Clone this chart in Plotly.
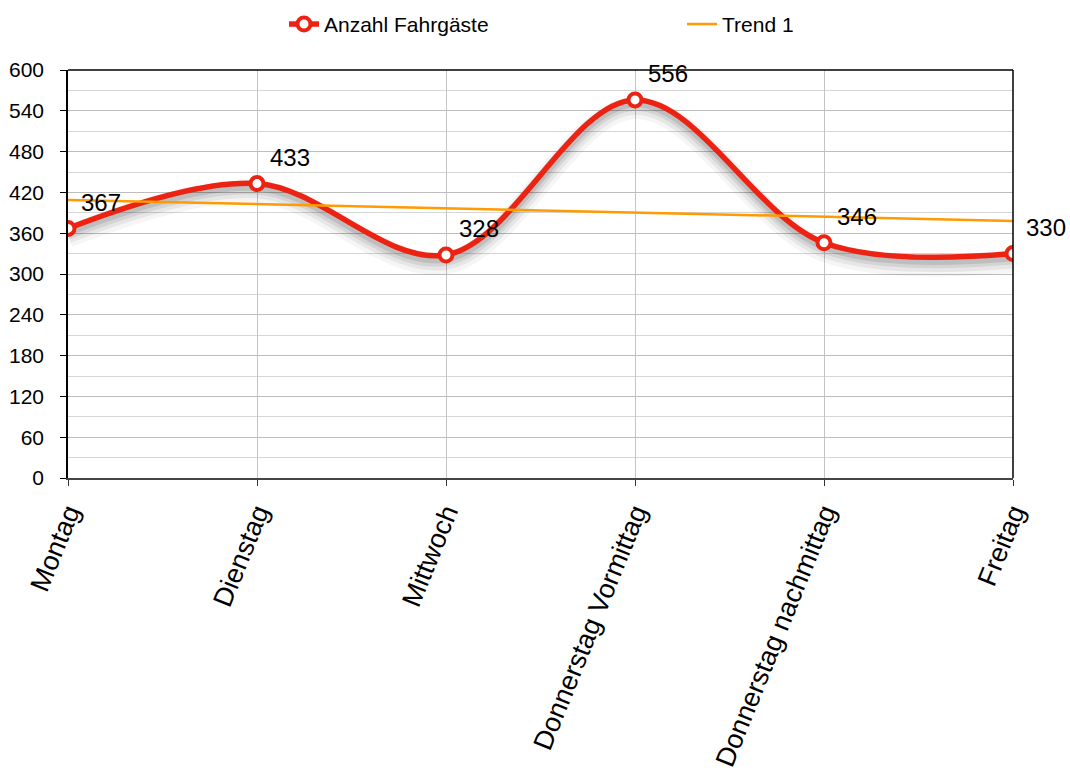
import plotly.graph_objects as go

categories = ["Montag", "Dienstag", "Mittwoch", "Donnerstag Vormittag", "Donnerstag nachmittag", "Freitag"]
fahrgaeste = [367, 433, 328, 556, 346, 330]
trend_x = ["Montag", "Freitag"]
trend_y = [409, 378]
y_ticks = [0, 60, 120, 180, 240, 300, 360, 420, 480, 540, 600]

FONT = "Liberation Sans, Arial, sans-serif"
RED = "#ec2312"
ORANGE = "#ff9a00"

fig = go.Figure()

# soft shadow under the main curve
for w, op, off in [(22, 0.04, 12), (16, 0.06, 10), (11, 0.08, 8), (7, 0.10, 6)]:
    fig.add_trace(go.Scatter(
        x=categories, y=[v - off for v in fahrgaeste], mode="lines",
        line=dict(color=f"rgba(0,0,0,{op})", width=w, shape="spline", smoothing=1.0),
        hoverinfo="skip", showlegend=False))

fig.add_trace(go.Scatter(
    x=categories, y=fahrgaeste, mode="lines+markers", name="Anzahl Fahrgäste",
    line=dict(color=RED, width=5.5, shape="spline", smoothing=1.0),
    marker=dict(symbol="circle", size=13, color="white", line=dict(color=RED, width=4)),
    legend="legend",
))

fig.add_trace(go.Scatter(
    x=trend_x, y=trend_y, mode="lines", name="Trend 1",
    line=dict(color=ORANGE, width=2.5),
    legend="legend2",
))

for c, v in zip(categories, fahrgaeste):
    fig.add_annotation(x=c, y=v, text=str(v), showarrow=False,
                       xshift=33, yshift=26, font=dict(size=24, color="black", family=FONT))

fig.update_layout(
    width=1070, height=778,
    margin=dict(l=68, r=57, t=70, b=300),
    paper_bgcolor="white", plot_bgcolor="white",
    font=dict(family=FONT, size=21, color="black"),
    legend=dict(orientation="h", xref="container", x=284 / 1070, xanchor="left",
                y=0.995, yanchor="top", yref="container", font=dict(size=21)),
    legend2=dict(orientation="h", xref="container", x=682 / 1070, xanchor="left",
                 y=0.995, yanchor="top", yref="container", font=dict(size=21)),
    showlegend=True,
)

fig.update_xaxes(
    type="category", categoryorder="array", categoryarray=categories,
    range=[0, 5], tickangle=-68, showgrid=True, gridcolor="#c4c4c4", gridwidth=1,
    showline=True, linecolor="#444444", linewidth=2, mirror=False,
    ticks="outside", ticklen=6, tickcolor="#333333", automargin=False,
    tickfont=dict(size=27, family=FONT),
)
fig.update_yaxes(
    range=[0, 600], tickvals=y_ticks, showgrid=True, gridcolor="#bdbdbd", gridwidth=1,
    minor=dict(dtick=30, showgrid=True, gridcolor="#d6d6d6", gridwidth=1),
    showline=True, linecolor="black", linewidth=1.5, automargin=False,
    ticks="outside", ticklen=6, tickcolor="black", ticklabelstandoff=12,
    tickfont=dict(size=21, family=FONT), zeroline=False,
)
# top and right frame lines
fig.add_shape(type="line", xref="paper", yref="paper", x0=0, x1=1, y0=1, y1=1,
              line=dict(color="black", width=1.5))
fig.add_shape(type="line", xref="paper", yref="paper", x0=1, x1=1, y0=0, y1=1,
              line=dict(color="black", width=1.5))

fig.write_html("out.html")
